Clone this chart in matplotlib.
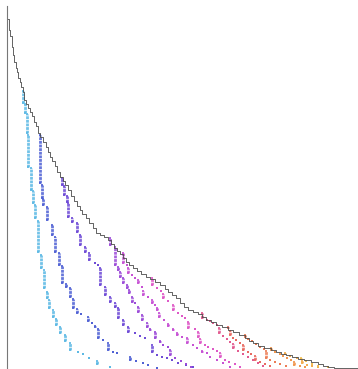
import numpy as np
import matplotlib.pyplot as plt

# black step curve (x, y)
curve_x = [0, 1.5, 3, 5, 5.5, 7, 9, 10, 11, 13, 14, 16, 17, 19, 21, 23, 25, 27, 29, 31,
           33, 36, 39, 41, 43, 45, 48, 50, 53, 56, 58, 61, 64, 67, 70, 73, 75, 79, 82,
           86, 89, 93, 97, 101, 104, 107, 110, 113, 116, 119, 122, 126, 130, 134, 139,
           143, 148, 153, 158, 161, 165, 169, 173, 177, 181, 186, 191, 195, 199, 204,
           209, 215, 221, 226, 232, 238, 242, 246, 251, 257, 264, 269, 274, 279, 285,
           291, 297, 304, 311, 316, 321, 327, 334, 351]
curve_y = [362, 349, 338, 332, 321, 313, 306, 300, 296, 290, 286, 281, 276, 268, 264,
           260, 256, 252, 246, 242, 235, 231, 226, 221, 216, 211, 207, 202, 196, 191,
           187, 183, 178, 172, 167, 162, 158, 154, 150, 145, 140, 135, 133, 131, 128,
           124, 120, 117, 114, 110, 106, 103, 100, 97, 94, 91, 89, 86, 83, 79, 76, 73,
           70, 65, 61, 58, 56, 54, 51, 48, 46, 43, 41, 38, 36, 33, 30, 27, 25, 22, 20,
           18, 16, 14, 13, 11, 9, 8, 6, 4, 2, 1, 0.5, 0.5]

# coloured series: each column is (x, y_top, y_bottom)
s1 = [(16, 277, 265), (18, 264, 255), (20, 254, 235), (21, 233, 201), (24, 200, 178),
      (26, 177, 165), (28, 163, 150), (31, 147, 116), (34, 113, 100), (37, 98, 80),
      (40, 76, 70), (42, 68, 60), (46, 58, 51), (49, 49, 43), (53, 41, 35), (58, 33, 27),
      (63, 25, 18), (71, 16, 16), (76, 14, 14), (82, 10, 10), (90, 7, 4), (103, 1, 1)]
s2 = [(33, 233, 185), (35, 183, 170), (36, 169, 163), (40, 161, 148), (45, 143, 133),
      (48, 131, 116), (52, 115, 103), (55, 102, 85), (59, 84, 81), (63, 80, 71),
      (66, 69, 60), (70, 59, 55), (74, 54, 54), (81, 51, 47), (85, 45, 45), (88, 42, 41),
      (91, 39, 30), (96, 28, 28), (101, 25, 18), (106, 16, 16), (110, 15, 15),
      (123, 11, 8), (129, 7, 7), (136, 5, 5), (141, 3, 3), (150, 0, 0)]
s3 = [(55, 190, 183), (57, 182, 173), (60, 172, 166), (61, 165, 151), (65, 150, 146),
      (70, 145, 136), (73, 133, 123), (78, 121, 116), (82, 115, 108), (88, 105, 105),
      (91, 103, 103), (93, 100, 83), (98, 81, 73), (103, 71, 66), (108, 65, 61),
      (111, 60, 50), (116, 48, 43), (121, 41, 36), (128, 35, 35), (133, 32, 32),
      (138, 30, 30), (145, 23, 16), (150, 13, 13), (155, 11, 11), (160, 10, 10),
      (165, 8, 8), (171, 5, 5), (179, 3, 3), (186, 1, 1)]
s4 = [(103, 130, 123), (108, 121, 103), (111, 101, 98), (113, 96, 91), (116, 90, 85),
      (120, 83, 80), (122, 78, 75), (125, 71, 66), (128, 65, 65), (131, 61, 56),
      (135, 53, 48), (140, 45, 41), (143, 39, 38), (148, 36, 30), (153, 27, 26),
      (156, 23, 23), (161, 21, 21), (163, 18, 13), (168, 10, 10), (174, 7, 7),
      (179, 4, 4), (184, 1, 1)]
s5 = [(116, 115, 105), (120, 103, 103), (121, 100, 95), (125, 93, 93), (128, 90, 90),
      (131, 88, 85), (135, 81, 81), (136, 77, 73), (141, 71, 71), (145, 68, 65),
      (148, 63, 63), (150, 60, 58), (152, 55, 51), (157, 48, 48), (161, 44, 42),
      (166, 39, 38), (170, 35, 33), (175, 31, 31), (180, 30, 25), (186, 23, 23),
      (190, 20, 20), (195, 17, 16), (200, 15, 15), (203, 11, 11), (210, 8, 8),
      (216, 5, 5), (223, 1, 1)]
s6 = [(145, 90, 83), (150, 80, 80), (154, 77, 77), (156, 74, 70), (161, 67, 67),
      (166, 63, 58), (171, 55, 55), (175, 52, 52), (178, 50, 50), (181, 46, 40),
      (188, 39, 39), (191, 36, 31), (193, 29, 25), (198, 23, 23), (201, 21, 21),
      (206, 19, 19), (210, 17, 17), (213, 15, 11), (218, 8, 8), (222, 6, 6),
      (228, 4, 4), (233, 1, 1)]
s7 = [(195, 55, 50), (200, 48, 48), (203, 47, 47), (206, 45, 45), (210, 43, 43),
      (212, 40, 35), (216, 32, 32), (220, 29, 29), (223, 26, 26), (226, 24, 20),
      (231, 17, 17), (236, 14, 14), (241, 11, 11), (246, 8, 8), (251, 5, 5), (256, 2, 2)]
s8 = [(221, 41, 40), (223, 37, 33), (226, 30, 30), (229, 28, 28), (233, 25, 25),
      (236, 23, 18), (241, 16, 16), (244, 14, 14), (248, 12, 8), (253, 6, 6),
      (258, 4, 4), (263, 2, 2)]
s9 = [(238, 33, 31), (241, 29, 29), (245, 27, 27), (249, 24, 24), (253, 21, 21),
      (257, 19, 19), (259, 17, 10), (263, 8, 8), (268, 6, 6), (273, 4, 4), (279, 2, 2)]
s10 = [(264, 20, 18), (268, 16, 16), (273, 14, 14), (276, 12, 12), (280, 10, 10),
       (284, 8, 8), (287, 6, 3), (293, 2, 2), (298, 1, 1)]
s11 = [(278, 15, 14), (283, 12, 12), (290, 10, 10), (295, 7, 5), (300, 3, 3),
       (305, 2, 2), (311, 1, 1)]
s12 = [(294, 10, 9), (299, 7, 7), (305, 4, 4), (311, 2, 2), (321, 1, 1)]

series = [s1, s2, s3, s4, s5, s6, s7, s8, s9, s10, s11, s12]
colors = ['#5ab8e4', '#4d5fd4', '#6c48d6', '#9a48d8', '#c64fd4', '#de56c6',
          '#e2588e', '#e8675e', '#ec7a52', '#f0944a', '#f2aa4a', '#f2be52']

fig = plt.figure(figsize=(3.58, 3.69), dpi=100)
ax = fig.add_axes([7 / 358, 1 / 369, 351 / 358, 362 / 369])

for cols, c in zip(series, colors):
    xs = np.array([p[0] for p in cols], dtype=float)
    top = np.array([p[1] for p in cols], dtype=float)
    bot = np.array([p[2] for p in cols], dtype=float)
    run = top > bot
    ax.vlines(xs[run], bot[run], top[run], colors=c, linewidth=2.0,
              linestyles=(0, (1.0, 0.3)), alpha=0.85)
    ax.scatter(np.r_[xs, xs], np.r_[top, bot], s=4.5, marker='s', color=c,
               linewidths=0, alpha=0.85, clip_on=False)

ax.plot(curve_x, curve_y, drawstyle='steps-pre', color='#4a4a4a', lw=0.6,
        clip_on=False)

ax.set_xlim(0, 351)
ax.set_ylim(0, 362)
for side in ['top', 'right', 'bottom']:
    ax.spines[side].set_visible(False)
ax.spines['left'].set_color('#777777')
ax.spines['left'].set_linewidth(0.8)
ax.set_xticks([])
ax.set_yticks([])

fig.savefig('out.png', dpi=100)
